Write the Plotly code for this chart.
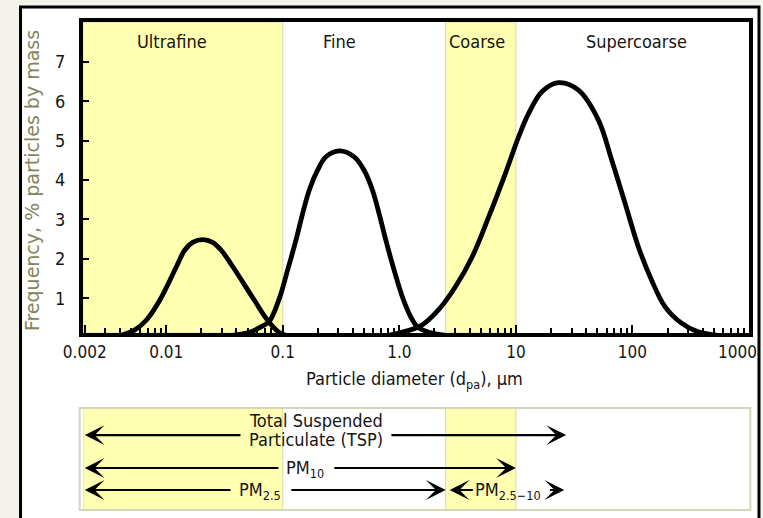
import math
import plotly.graph_objects as go

# ---------------- data ----------------
X_RANGE_LOG = [-2.714, 3.0]          # log10 of particle diameter (µm) shown
Y_RANGE = [0.12, 8.01]

x_tick_vals = [0.002, 0.01, 0.1, 1, 10, 100, 1000]
x_tick_text = ["0.002", "0.01", "0.1", "1.0", "10", "100", ""]   # "1000" drawn as annotation (shifted in)
y_tick_vals = [1, 2, 3, 4, 5, 6, 7]

ultrafine_x = [0.0040, 0.00538, 0.00677, 0.00880, 0.01222, 0.01439, 0.01686, 0.02065,
               0.0250, 0.02965, 0.03727, 0.0571, 0.0738, 0.0935, 0.1137]
ultrafine_y = [0.05, 0.20, 0.45, 0.95, 1.80, 2.22, 2.42, 2.49,
               2.42, 2.22, 1.80, 0.95, 0.45, 0.13, 0.04]

fine_x = [0.0349, 0.0518, 0.0656, 0.0768, 0.0935, 0.1101, 0.1299, 0.1480, 0.1689, 0.1988,
          0.2346, 0.3049, 0.4097, 0.4989, 0.5875, 0.6705, 0.7650, 0.9007, 1.061, 1.252,
          1.425, 1.795, 2.661]
fine_y = [0.05, 0.14, 0.28, 0.42, 1.00, 1.72, 2.48, 3.15, 3.75, 4.25,
          4.59, 4.74, 4.59, 4.25, 3.75, 3.15, 2.48, 1.72, 1.04, 0.53,
          0.28, 0.14, 0.05]

supercoarse_x = [0.7396, 0.994, 1.524, 2.186, 3.037, 4.211, 5.852, 8.131, 10.57, 12.86, 16.72,
                 23.24, 34.45, 51.07, 66.37, 86.42, 112.3, 146.0, 190.0, 263.6, 366.1, 542.9]
supercoarse_y = [0.04, 0.12, 0.30, 0.72, 1.30, 2.05, 3.07, 4.17, 5.10, 5.69, 6.24,
                 6.47, 6.28, 5.52, 4.51, 3.41, 2.31, 1.46, 0.79, 0.37, 0.15, 0.06]

# size classes
class_names = ["Ultrafine", "Fine", "Coarse", "Supercoarse"]
class_label_x = [0.0112, 0.309, 4.62, 109]
yellow_bands = [(10 ** X_RANGE_LOG[0], 0.1), (2.5, 10)]

# regulatory size fractions (bottom panel): (head, tail, row)
arrows = [
    (0.002, 0.0447, 0.735), (27, 0.83, 0.735),      # TSP
    (0.002, 0.0945, 0.412), (10, 0.269, 0.412),     # PM10
    (0.002, 0.0367, 0.196), (2.5, 0.115, 0.196),    # PM2.5
    (2.7, 4.4, 0.196), (26, 19, 0.196),             # PM2.5-10
]
fraction_labels = [
    ("Total Suspended", 0.0493, 0.873, "left"),
    ("Particulate (TSP)", 0.0493, 0.690, "left"),
    ("PM<sub>10</sub>", 0.155, 0.402, "center"),
    ("PM<sub>2.5</sub>", 0.0637, 0.186, "center"),
    ("PM<sub>2.5\u221210</sub>", 8.53, 0.186, "center"),
]

# ---------------- styling ----------------
NARROW = "DejaVu Sans Condensed, Liberation Sans Narrow, Liberation Sans, sans-serif"
YELLOW = "#ffffb2"
BAND_EDGE = "#d9d9a6"
BOX_EDGE = "#d6d6b8"
BG = "#f3f3eb"
INK = "#141414"

minor_vals = [m * 10 ** e for e in range(-3, 3) for m in range(2, 10)
              if 10 ** X_RANGE_LOG[0] < m * 10 ** e < 1000]

L = math.log10  # annotations on log axes take log10 positions

fig = go.Figure()
for xs, ys in [(ultrafine_x, ultrafine_y), (fine_x, fine_y), (supercoarse_x, supercoarse_y)]:
    fig.add_trace(go.Scatter(x=xs, y=ys, mode="lines", xaxis="x", yaxis="y",
                             line=dict(color="black", width=4.8, shape="spline", smoothing=1.0),
                             hoverinfo="skip"))

shapes = []
shapes.append(dict(type="rect", xref="paper", yref="paper", x0=-0.0938, x1=1.015,
                   y0=-0.2, y1=1.0307, fillcolor="white",
                   line=dict(color="black", width=3), layer="below"))
for x0, x1 in yellow_bands:
    shapes.append(dict(type="rect", xref="x", yref="y domain", x0=x0, x1=x1, y0=0, y1=1,
                       fillcolor=YELLOW, line=dict(color=BAND_EDGE, width=1), layer="below"))
    shapes.append(dict(type="rect", xref="x2", yref="y2 domain", x0=x0, x1=x1, y0=0, y1=1,
                       fillcolor=YELLOW, line=dict(color=BAND_EDGE, width=1), layer="below"))
shapes.append(dict(type="rect", xref="paper", yref="y2 domain", x0=-0.005, x1=1.002, y0=0, y1=1,
                   fillcolor="rgba(0,0,0,0)", line=dict(color=BOX_EDGE, width=2), layer="below"))

annotations = []
for name, xv in zip(class_names, class_label_x):
    annotations.append(dict(text=name, x=L(xv), y=7.52, xref="x", yref="y", showarrow=False,
                            xanchor="center", yanchor="middle",
                            font=dict(family=NARROW, size=18, color=INK)))
annotations.append(dict(text="1000", x=L(1000), y=0.3238, xref="x", yref="paper", xshift=-12,
                        xanchor="center", yanchor="middle",
                        showarrow=False, font=dict(family=NARROW, size=17, color=INK)))
annotations.append(dict(text="Particle diameter (d<sub>pa</sub>), \u00b5m", x=0.497, y=0.2664,
                        xref="paper", yref="paper", showarrow=False,
                        xanchor="center", yanchor="middle",
                        font=dict(family=NARROW, size=18, color=INK)))
annotations.append(dict(text="Frequency, % particles by mass", x=-0.0766, y=0.676,
                        xref="paper", yref="paper", showarrow=False, textangle=-90,
                        xanchor="center", yanchor="middle",
                        font=dict(family="DejaVu Sans, sans-serif", size=19, color="#84845e")))
for head, tail, row in arrows:
    annotations.append(dict(text="", x=L(head), y=row, ax=L(tail), ay=row, xref="x2", yref="y2",
                            axref="x2", ayref="y2", showarrow=True, arrowhead=3, arrowsize=1.5,
                            arrowwidth=2.2, arrowcolor="black", standoff=0, startstandoff=0))
for txt, xv, yv, anch in fraction_labels:
    annotations.append(dict(text=txt, x=L(xv), y=yv, xref="x2", yref="y2", xanchor=anch,
                            yanchor="middle", showarrow=False,
                            font=dict(family=NARROW, size=18, color=INK)))

fig.update_layout(
    width=763, height=518,
    margin=dict(l=83, r=14, t=22, b=8, pad=0),
    paper_bgcolor=BG, plot_bgcolor="white",
    showlegend=False,
    font=dict(family=NARROW, size=18, color=INK),
    xaxis=dict(type="log", range=X_RANGE_LOG, domain=[0, 1], anchor="y",
               showline=True, linewidth=4, linecolor="black", mirror=True,
               showgrid=False, zeroline=False,
               tickmode="array", tickvals=x_tick_vals, ticktext=x_tick_text,
               ticks="inside", ticklen=8, tickwidth=2, tickcolor="black",
               ticklabelstandoff=1,
               tickfont=dict(family=NARROW, size=17, color=INK),
               minor=dict(tickmode="array", tickvals=minor_vals, ticks="inside",
                          ticklen=5, tickwidth=1.5, tickcolor="black", showgrid=False)),
    yaxis=dict(range=Y_RANGE, domain=[0.3627, 1], anchor="x",
               showline=True, linewidth=4, linecolor="black", mirror=True,
               showgrid=False, zeroline=False,
               tickmode="array", tickvals=y_tick_vals,
               ticks="inside", ticklen=6, tickwidth=2, tickcolor="black",
               ticklabelstandoff=10,
               tickfont=dict(family=NARROW, size=18, color=INK)),
    xaxis2=dict(type="log", range=X_RANGE_LOG, domain=[0, 1], anchor="y2", visible=False),
    yaxis2=dict(range=[0, 1], domain=[0, 0.209], anchor="x2", visible=False),
    shapes=shapes,
    annotations=annotations,
)

fig.write_html("out.html")
